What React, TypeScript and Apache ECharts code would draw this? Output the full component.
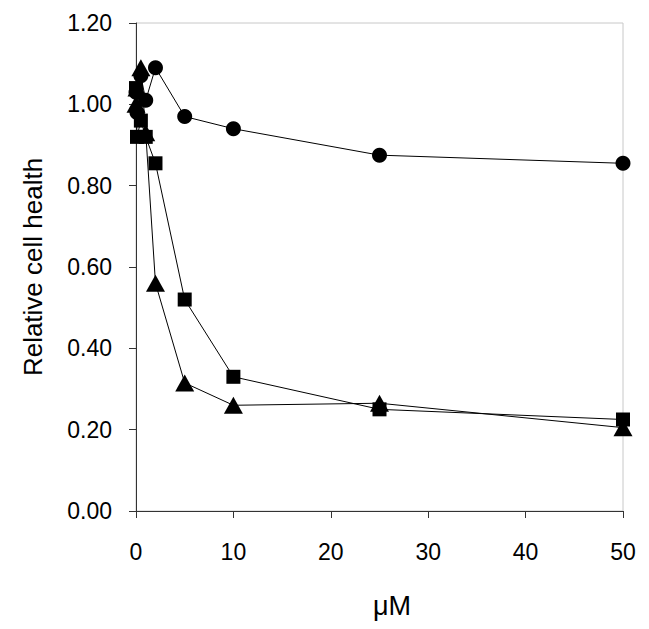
import React, { useEffect, useRef } from "react";
import * as echarts from "echarts";

const concentrations = [0, 0.1, 0.5, 1, 2, 5, 10, 25, 50];
const circleValues = [1.03, 0.98, 1.07, 1.01, 1.09, 0.97, 0.94, 0.875, 0.855];
const squareValues = [1.04, 0.92, 0.96, 0.92, 0.855, 0.52, 0.33, 0.25, 0.225];
const triangleValues = [1.0, 1.04, 1.09, 0.93, 0.56, 0.315, 0.26, 0.265, 0.205];

const xTicks = [0, 10, 20, 30, 40, 50];
const yTicks = [0, 0.2, 0.4, 0.6, 0.8, 1.0, 1.2];

const FONT = "'Liberation Sans', Arial, sans-serif";

function pairs(xs: number[], ys: number[]) {
  return xs.map((x, i) => [x, ys[i]]);
}

export default function App() {
  const ref = useRef<HTMLDivElement>(null);
  useEffect(() => {
    if (!ref.current) return;
    const chart = echarts.init(ref.current, null, { renderer: "svg" });
    const mkSeries = (name: string, ys: number[], symbol: string, size: number | number[]) => ({
      name,
      type: "line",
      data: pairs(concentrations, ys),
      symbol,
      symbolSize: size,
      showSymbol: true,
      lineStyle: { color: "#000", width: 1 },
      itemStyle: { color: "#000", borderWidth: 0 },
      z: 3,
    });
    chart.setOption({
      animation: false,
      backgroundColor: "#fff",
      textStyle: { fontFamily: FONT },
      grid: {
        left: 136,
        top: 23,
        right: 26,
        bottom: 118,
        show: true,
        borderColor: "#c8c8c8",
        borderWidth: 1,
      },
      xAxis: {
        type: "value",
        min: xTicks[0],
        max: xTicks[xTicks.length - 1],
        interval: 10,
        name: "\u03bcM",
        nameLocation: "middle",
        nameGap: 81,
        nameTextStyle: { fontSize: 27, color: "#000", fontFamily: FONT, padding: [0, 0, 0, 25] },
        axisLine: { show: true, onZero: false, lineStyle: { color: "#333", width: 1 } },
        axisTick: { show: true, inside: false, length: 7, lineStyle: { color: "#333" } },
        axisLabel: { fontSize: 23, color: "#000", margin: 29, fontFamily: FONT },
        splitLine: { show: false },
      },
      yAxis: {
        type: "value",
        min: yTicks[0],
        max: yTicks[yTicks.length - 1],
        interval: 0.2,
        name: "Relative cell health",
        nameLocation: "middle",
        nameGap: 90,
        nameTextStyle: { fontSize: 26, color: "#000", fontFamily: FONT },
        axisLine: { show: true, onZero: false, lineStyle: { color: "#333", width: 1 } },
        axisTick: { show: true, inside: false, length: 7, lineStyle: { color: "#333" } },
        axisLabel: {
          fontSize: 23,
          color: "#000",
          margin: 24,
          fontFamily: FONT,
          formatter: (v: number) => v.toFixed(2),
        },
        splitLine: { show: false },
      },
      series: [
        mkSeries("Circle", circleValues, "circle", 15),
        mkSeries("Square", squareValues, "rect", 14),
        mkSeries("Triangle", triangleValues, "triangle", [19, 17]),
      ],
    });
    return () => chart.dispose();
  }, []);
  return (
    <div
      ref={ref}
      style={{ position: "fixed", left: 0, top: 0, width: 649, height: 629, background: "#fff" }}
    />
  );
}
